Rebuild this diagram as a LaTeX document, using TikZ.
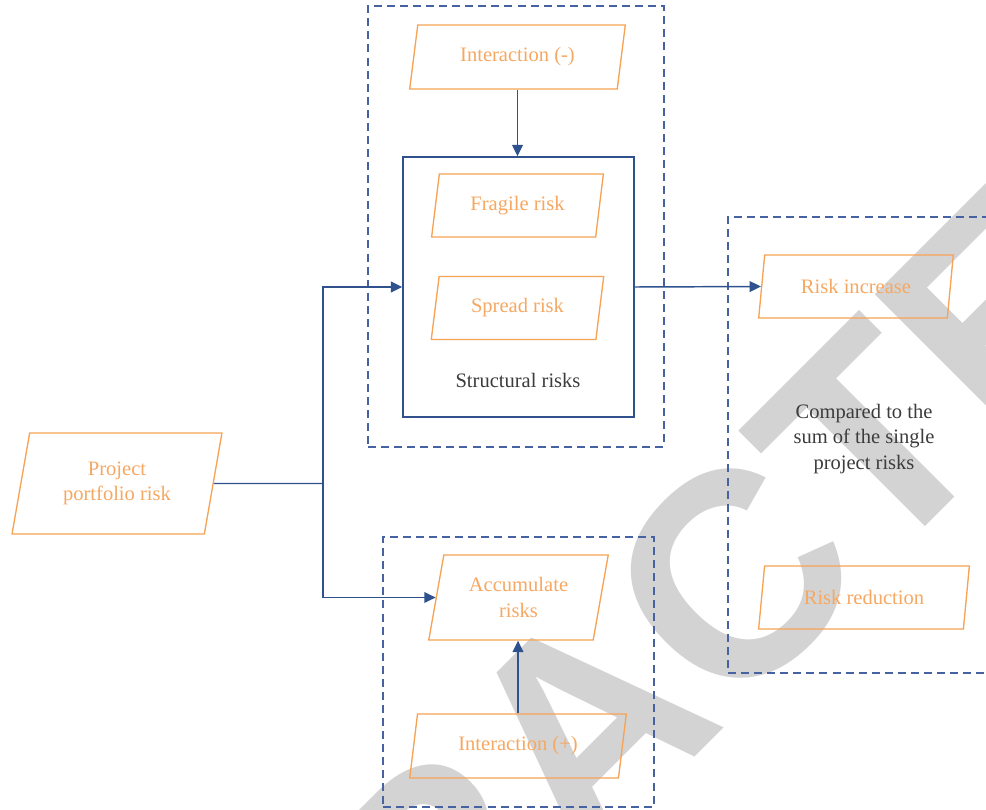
\documentclass[tikz,border=0pt]{standalone}
\usepackage{fontspec}
\setmainfont{Liberation Serif}
\newfontfamily\wmfont{Liberation Sans}
\usetikzlibrary{shapes.geometric,arrows.meta}
\definecolor{lineblue}{RGB}{47,82,143}
\definecolor{dashblue}{RGB}{70,98,160}
\definecolor{orangeline}{RGB}{247,163,86}
\definecolor{orangetext}{RGB}{246,168,98}
\definecolor{darktext}{RGB}{60,60,60}
\definecolor{wmgray}{RGB}{211,211,211}
\newcommand{\pxu}{0.75pt}
\begin{document}
\begin{tikzpicture}[x=0.75pt,y=-0.75pt,
  para/.style={draw=orangeline, line width=1pt, shape=trapezium,
    trapezium left angle=76, trapezium right angle=104,
    trapezium stretches=true, inner sep=0pt, text=orangetext,
    align=center, font=\fontsize{15.4}{19.2}\selectfont},
  plain/.style={text=darktext, align=center, inner sep=0pt,
    font=\fontsize{15.4}{19.2}\selectfont},
  solidbox/.style={draw=lineblue, line width=1.1pt, inner sep=0pt},
  dashbox/.style={draw=dashblue, line width=1.1pt,
    dash pattern=on 6pt off 3.8pt, inner sep=0pt},
  conn/.style={draw=lineblue, line width=1.1pt},
  arr/.style={conn, -{Triangle[length=8.5pt,width=8pt]}},
  wmark/.style={text=wmgray, inner sep=0pt,
    font=\wmfont\bfseries\fontsize{217.5}{217.5}\selectfont}
]
\useasboundingbox (0,0) rectangle (986,810);
\clip (0,0) rectangle (986,810);
\fill[white] (0,0) rectangle (986,810);

% watermark
\node[wmark, anchor=base west, rotate=45] (wm) at (23,1429) {RETRACTED};

% dashed group boxes
\node[dashbox, minimum width=296*\pxu, minimum height=441*\pxu] (dbox1) at (516,226.5) {};
\node[dashbox, minimum width=271*\pxu, minimum height=270*\pxu] (dbox2) at (518.5,672) {};
\node[dashbox, minimum width=282*\pxu, minimum height=456*\pxu] (dbox3) at (869,445) {};

% structural risks box
\node[solidbox, minimum width=231*\pxu, minimum height=260*\pxu] (struct) at (518.5,287) {};
\node[plain] (slbl) at (518,380) {Structural risks};

% parallelograms
\node[para, minimum width=217*\pxu, minimum height=64*\pxu] (intm) at (517.5,57) {Interaction (-)};
\node[para, minimum width=173*\pxu, minimum height=63*\pxu] (frag) at (517.5,205.5) {Fragile risk};
\node[para, minimum width=173*\pxu, minimum height=63*\pxu] (spread) at (517.5,308) {Spread risk};
\node[para, minimum width=212*\pxu, minimum height=101*\pxu] (port) at (117,483.5) {Project\\portfolio risk};
\node[para, minimum width=181*\pxu, minimum height=85*\pxu] (acc) at (518.5,597.5) {Accumulate\\risks};
\node[para, minimum width=218*\pxu, minimum height=64*\pxu] (intp) at (518,746) {Interaction (+)};
\node[para, minimum width=196*\pxu, minimum height=63*\pxu] (inc) at (856,286.5) {Risk increase};
\node[para, minimum width=212*\pxu, minimum height=63*\pxu] (red) at (864,597.5) {Risk reduction};

\node[plain] (cmp) at (864,439) {Compared to the\\sum of the single\\project risks};

% connectors
\coordinate (j) at (323,483.5);
\draw[arr] (intm.south) -- (intm.south |- struct.north);
\draw[conn] (port.east) -- (j);
\draw[arr] (j) |- (struct.west);
\draw[arr] (j) |- (acc.west);
\draw[arr] (struct.east) -- (inc.west);
\draw[arr] (intp.north) -- (intp.north |- acc.south);
\end{tikzpicture}
\end{document}
